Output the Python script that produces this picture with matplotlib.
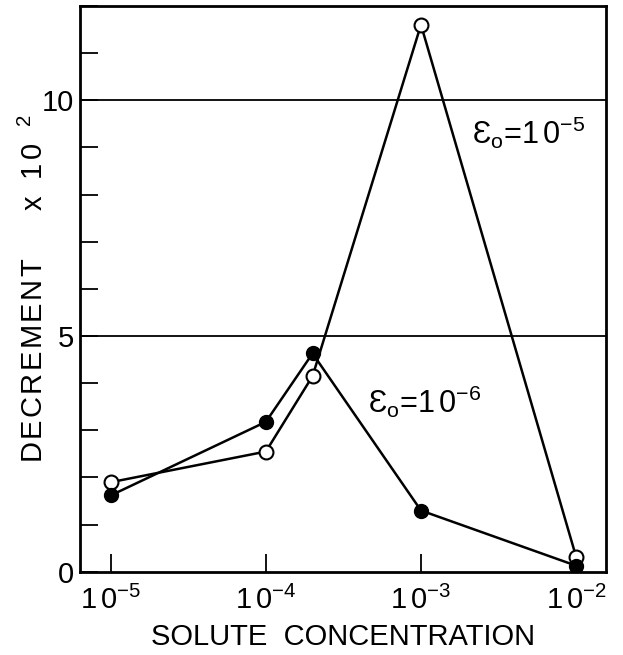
import numpy as np
import matplotlib.pyplot as plt

plt.rcParams['font.family'] = ['Liberation Sans', 'DejaVu Sans']
plt.rcParams['mathtext.fontset'] = 'custom'
plt.rcParams['mathtext.rm'] = 'Liberation Sans'
plt.rcParams['mathtext.it'] = 'Liberation Sans:italic'

# data
conc = [1e-5, 1e-4, 2e-4, 1e-3, 1e-2]
dec_e5 = [1.9, 2.55, 4.15, 11.6, 0.32]   # open circles, eps0 = 1e-5
dec_e6 = [1.62, 3.18, 4.63, 1.3, 0.13]   # filled circles, eps0 = 1e-6

xticks = [1e-5, 1e-4, 1e-3, 1e-2]
xticklabels = [r'1$\,$0$^{\mathregular{-5}}$', r'1$\,$0$^{\mathregular{-4}}$',
               r'1$\,$0$^{\mathregular{-3}}$', r'1$\,$0$^{\mathregular{-2}}$']

fig = plt.figure(figsize=(6.23, 6.55), dpi=100)
ax = fig.add_axes([0.128, 0.127, 0.845, 0.864])

ax.set_xscale('log')
ax.set_xlim(10**-5.2, 10**-1.806)
ax.set_ylim(0, 12)

# horizontal reference lines
for yv in (5, 10):
    ax.axhline(yv, color='black', lw=1.3, zorder=1)

ax.plot(conc, dec_e5, '-', color='black', lw=1.8, marker='o', ms=10,
        mfc='white', mec='black', mew=1.5, zorder=3)
ax.plot(conc, dec_e6, '-', color='black', lw=1.8, marker='o', ms=10,
        mfc='black', mec='black', zorder=4)

ax.text(10**-2.67, 9.3, r'Ɛ$_{\mathregular{o}}$=1$\,$0$^{\mathregular{-5}}$',
        fontsize=22, ha='left', va='center')
ax.text(10**-3.34, 3.6, r'Ɛ$_{\mathregular{o}}$=1$\,$0$^{\mathregular{-6}}$',
        fontsize=22, ha='left', va='center')

ax.set_xticks(xticks)
ax.set_xticklabels(xticklabels, fontsize=21)
ax.xaxis.set_minor_locator(plt.NullLocator())
ax.set_yticks(np.arange(0, 13, 1))
ax.set_yticklabels([str(v) if v in (0, 5, 10) else '' for v in range(13)],
                   fontsize=21)
ax.tick_params(direction='in', length=13, width=1.3)
ax.tick_params(axis='y', pad=4)
ax.tick_params(axis='x', pad=10)

ax.set_xlabel('SOLUTE  CONCENTRATION', fontsize=21, labelpad=6)
ax.set_ylabel('\u200a'.join('DECREMENT') +
              r'      x  1$\,$0$^{\quad\mathregular{2}}$',
              fontsize=21, labelpad=-5)

for s in ax.spines.values():
    s.set_linewidth(2)

fig.savefig('out.png', dpi=100)
